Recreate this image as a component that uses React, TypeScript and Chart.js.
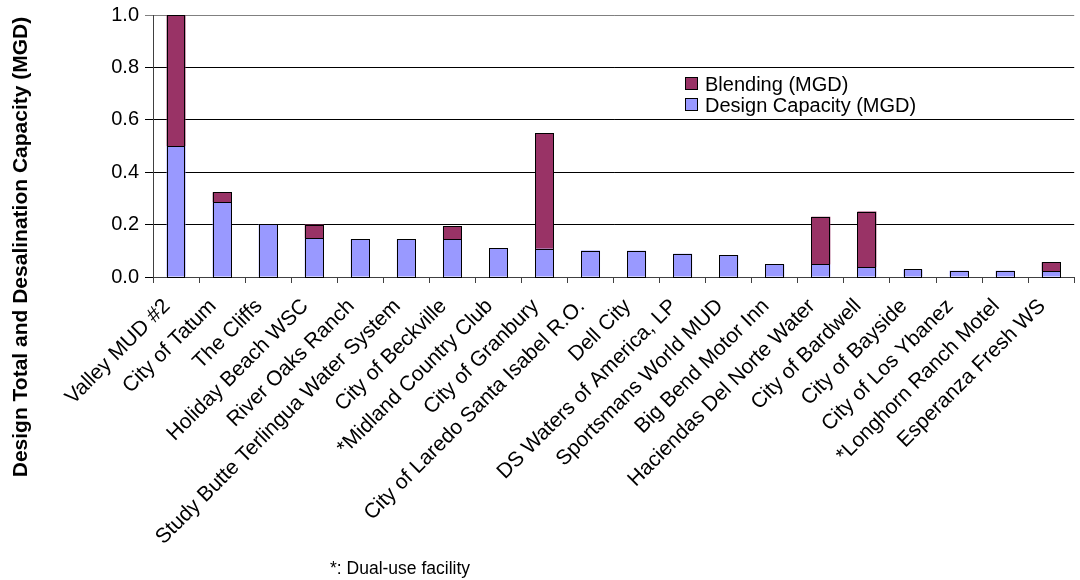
import React, { useEffect, useRef } from "react";
import { Chart, registerables } from "chart.js";

Chart.register(...registerables);

const facilities: string[] = [
  "Valley MUD #2",
  "City of Tatum",
  "The Cliffs",
  "Holiday Beach WSC",
  "River Oaks Ranch",
  "Study Butte Terlingua Water System",
  "City of Beckville",
  "*Midland Country Club",
  "City of Granbury",
  "City of Laredo Santa Isabel R.O.",
  "Dell City",
  "DS Waters of America, LP",
  "Sportsmans World MUD",
  "Big Bend Motor Inn",
  "Haciendas Del Norte Water",
  "City of Bardwell",
  "City of Bayside",
  "City of Los Ybanez",
  "*Longhorn Ranch Motel",
  "Esperanza Fresh WS",
];

const designCapacity: number[] = [
  0.5, 0.286, 0.202, 0.149, 0.145, 0.145, 0.145, 0.109, 0.108, 0.101,
  0.1, 0.089, 0.084, 0.048, 0.048, 0.037, 0.029, 0.024, 0.024, 0.023,
];

const blending: number[] = [
  0.5, 0.037, 0, 0.051, 0, 0, 0.048, 0, 0.44, 0,
  0, 0, 0, 0, 0.182, 0.213, 0, 0, 0, 0.033,
];

const yTicks: number[] = [0, 0.2, 0.4, 0.6, 0.8, 1.0];

const seriesNames = ["Design Capacity (MGD)", "Blending (MGD)"];
const yTitle = "Design Total and Desalination Capacity (MGD)";
const footnote = "*: Dual-use facility";

const DESIGN_COLOR = "#9999FF";
const BLEND_COLOR = "#993366";
const FONT = "'Liberation Sans', Arial, sans-serif";

// Crisp 1px outlines around every bar segment, snapped to the pixel grid.
const barOutlines = {
  id: "barOutlines",
  afterDatasetsDraw(chart: Chart) {
    const { ctx } = chart;
    ctx.save();
    ctx.strokeStyle = "#000";
    ctx.lineWidth = 1;
    chart.data.datasets.forEach((_, di) => {
      const meta = chart.getDatasetMeta(di);
      meta.data.forEach((el: any) => {
        const { x, y, base, width } = el.getProps(["x", "y", "base", "width"], true);
        if (Math.abs(base - y) < 0.5) return;
        const l = Math.round(x - width / 2);
        const r = Math.round(x + width / 2);
        const t = Math.round(Math.min(y, base));
        const b = Math.round(Math.max(y, base));
        ctx.strokeRect(l + 0.5, t + 0.5, r - l - 1, b - t);
      });
    });
    ctx.restore();
  },
};

// Draws the rotated axis title, the inset legend and the footnote.
const annotations = {
  id: "annotations",
  afterDraw(chart: Chart) {
    const { ctx } = chart;
    ctx.save();

    // y-axis title
    ctx.save();
    ctx.translate(21, 247);
    ctx.rotate(-Math.PI / 2);
    ctx.font = `bold 21px ${FONT}`;
    ctx.fillStyle = "#000";
    ctx.textAlign = "center";
    ctx.textBaseline = "middle";
    ctx.fillText(yTitle, 0, 0);
    ctx.restore();

    // legend (Blending listed first)
    const entries = [
      { label: seriesNames[1], color: BLEND_COLOR },
      { label: seriesNames[0], color: DESIGN_COLOR },
    ];
    ctx.font = `20px ${FONT}`;
    ctx.textAlign = "left";
    ctx.textBaseline = "middle";
    entries.forEach((e, i) => {
      const y = 84 + i * 21;
      ctx.fillStyle = e.color;
      ctx.fillRect(685.5, y - 6.5, 12, 12);
      ctx.strokeStyle = "#000";
      ctx.lineWidth = 1;
      ctx.strokeRect(685.5, y - 6.5, 12, 12);
      ctx.fillStyle = "#000";
      ctx.fillText(e.label, 705, y + 1);
    });

    // footnote
    ctx.font = `17.5px ${FONT}`;
    ctx.fillStyle = "#000";
    ctx.textBaseline = "middle";
    ctx.fillText(footnote, 330, 569);

    ctx.restore();
  },
};

export default function App() {
  const canvasRef = useRef<HTMLCanvasElement | null>(null);

  useEffect(() => {
    if (!canvasRef.current) return;
    const chart = new Chart(canvasRef.current, {
      type: "bar",
      data: {
        labels: facilities,
        datasets: [
          {
            label: seriesNames[0],
            data: designCapacity,
            backgroundColor: DESIGN_COLOR,
            borderWidth: 0,
            barPercentage: 0.41,
            categoryPercentage: 1,
          },
          {
            label: seriesNames[1],
            data: blending,
            backgroundColor: BLEND_COLOR,
            borderWidth: 0,
            barPercentage: 0.41,
            categoryPercentage: 1,
          },
        ],
      },
      options: {
        animation: false,
        responsive: true,
        maintainAspectRatio: false,
        layout: { autoPadding: false, padding: { top: 15, right: 0, left: 0, bottom: 0 } },
        plugins: {
          legend: { display: false },
          tooltip: { enabled: false },
        },
        scales: {
          x: {
            stacked: true,
            offset: true,
            grid: {
              offset: true,
              drawOnChartArea: false,
              color: "#404040",
              tickLength: 6,
            },
            border: { color: "#404040", width: 1 },
            ticks: {
              color: "#000",
              font: { family: FONT, size: 21 },
              minRotation: 45,
              maxRotation: 45,
              autoSkip: false,
              padding: 11,
              labelOffset: -9,
            },
            afterFit(scale: any) {
              scale.height = 303;
            },
          },
          y: {
            stacked: true,
            min: 0,
            max: 1,
            afterBuildTicks(scale: any) {
              scale.ticks = yTicks.map((v) => ({ value: v }));
            },
            grid: {
              color: (c: any) => (c.tick && c.tick.value === 1 ? "#808080" : "#000"),
              tickLength: 8,
            },
            border: { color: "#404040", width: 1 },
            ticks: {
              color: "#000",
              font: { family: FONT, size: 20, lineHeight: 0.8 },
              padding: 6,
              callback: (v: any) => Number(v).toFixed(1),
            },
            afterFit(scale: any) {
              scale.width = 153;
            },
          },
        },
      },
      plugins: [barOutlines, annotations],
    });
    return () => chart.destroy();
  }, []);

  return (
    <div style={{ position: "fixed", left: 0, top: 0, width: 1080, height: 580, background: "#fff" }}>
      <canvas ref={canvasRef} />
    </div>
  );
}
